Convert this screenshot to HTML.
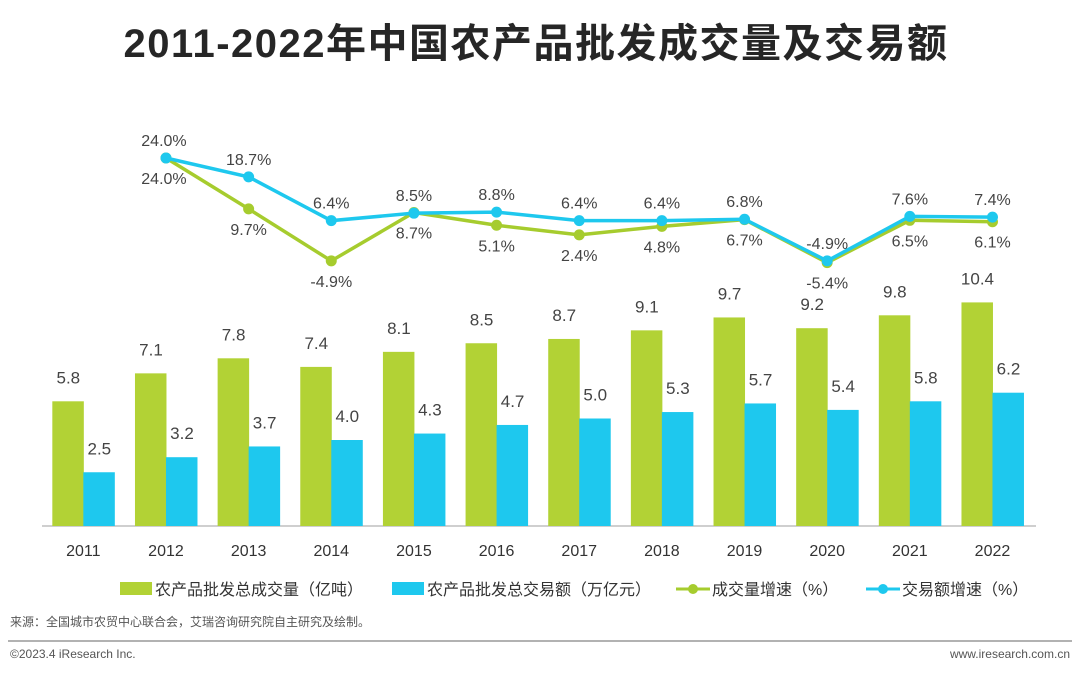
<!DOCTYPE html>
<html><head><meta charset="utf-8"><style>
body{margin:0;background:#fff;width:1080px;height:676px;overflow:hidden;font-family:"Liberation Sans","Noto Sans CJK SC",sans-serif}
svg text{font-family:"Liberation Sans","Noto Sans CJK SC",sans-serif}
</style></head><body>
<svg id="c" width="1080" height="676">
<text x="536" y="57" text-anchor="middle" font-size="40" font-weight="bold" letter-spacing="1.5" fill="#262626">2011-2022年中国农产品批发成交量及交易额</text>
<line x1="42" y1="526" x2="1036" y2="526" stroke="#bfbfbf" stroke-width="1.5"/>
<g id="bars"></g><g id="lines"></g>
<g font-size="16" fill="#333">
<rect x="120" y="582" width="32" height="13" fill="#b2d235"/>
<text x="155" y="595">农产品批发总成交量（亿吨）</text>
<rect x="392" y="582" width="32" height="13" fill="#1ec8ee"/>
<text x="427" y="595">农产品批发总交易额（万亿元）</text>
<line x1="676" y1="589" x2="710" y2="589" stroke="#a6cc2e" stroke-width="3"/>
<circle cx="693" cy="589" r="5" fill="#a6cc2e"/>
<text x="712" y="595">成交量增速（%）</text>
<line x1="866" y1="589" x2="900" y2="589" stroke="#1ec8ee" stroke-width="3"/>
<circle cx="883" cy="589" r="5" fill="#1ec8ee"/>
<text x="902" y="595">交易额增速（%）</text>
</g>
<text x="10" y="626" font-size="12" fill="#555">来源：全国城市农贸中心联合会，艾瑞咨询研究院自主研究及绘制。</text>
<line x1="8" y1="641" x2="1072" y2="641" stroke="#999" stroke-width="1.5"/>
<text x="10" y="658" font-size="12" fill="#555">©2023.4 iResearch Inc.</text>
<text x="1070" y="658" font-size="12" fill="#555" text-anchor="end">www.iresearch.com.cn</text>
</svg>
<script>
const years=["2011","2012","2013","2014","2015","2016","2017","2018","2019","2020","2021","2022"];
const volume=[5.8,7.1,7.8,7.4,8.1,8.5,8.7,9.1,9.7,9.2,9.8,10.4];
const value=[2.5,3.2,3.7,4.0,4.3,4.7,5.0,5.3,5.7,5.4,5.8,6.2];
const volGrowth=[null,24.0,9.7,-4.9,8.7,5.1,2.4,4.8,6.7,-5.4,6.5,6.1];
const valGrowth=[null,24.0,18.7,6.4,8.5,8.8,6.4,6.4,6.8,-4.9,7.6,7.4];
const NS="http://www.w3.org/2000/svg";
const step=82.65,x0=42;
const cx=i=>x0+step*(i+0.5);
const yb=v=>526-v*21.5;
const yl=v=>158-(v-24)*3.56;
const bars=document.getElementById('bars'),lines=document.getElementById('lines');
function mk(p,tag,attrs){const e=document.createElementNS(NS,tag);for(const k in attrs)e.setAttribute(k,attrs[k]);p.appendChild(e);return e;}
years.forEach((y,i)=>{
  let r=mk(bars,'rect',{x:cx(i)-31,y:yb(volume[i]),width:31.5,height:526-yb(volume[i]),fill:'#b2d235'});
  
  
  r=mk(bars,'rect',{x:cx(i),y:yb(value[i]),width:31.5,height:526-yb(value[i]),fill:'#1ec8ee'});
  
  
  let t=mk(bars,'text',{x:cx(i)-15,y:yb(volume[i])-18,'text-anchor':'middle','font-size':17,fill:'#444'});t.textContent=volume[i].toFixed(1);
  
  
  t=mk(bars,'text',{x:cx(i)+16,y:yb(value[i])-18,'text-anchor':'middle','font-size':17,fill:'#444'});t.textContent=value[i].toFixed(1);
  
  
  t=mk(bars,'text',{x:cx(i),y:556,'text-anchor':'middle','font-size':16,fill:'#333'});t.textContent=y;
  
  
});
function series(data,color,name,above){
  const pts=[];data.forEach((v,i)=>{if(v!==null)pts.push([cx(i),yl(v),v,years[i]]);});
  const pl=mk(lines,'polyline',{points:pts.map(p=>p[0]+','+p[1]).join(' '),fill:'none',stroke:color,'stroke-width':3.5});
  
  
  pts.forEach(p=>{
    const c=mk(lines,'circle',{cx:p[0],cy:p[1],r:5.5,fill:color});
    
    
    const t=mk(lines,'text',{x:p[0]+(p[3]==='2012'?-2:0),y:above?p[1]-12:p[1]+26,'text-anchor':'middle','font-size':16,fill:'#444'});
    t.textContent=p[2].toFixed(1)+'%';
    
    
  });
}
series(volGrowth,'#a6cc2e','volume-growth',false);
series(valGrowth,'#1ec8ee','value-growth',true);
</script>
</body></html>
